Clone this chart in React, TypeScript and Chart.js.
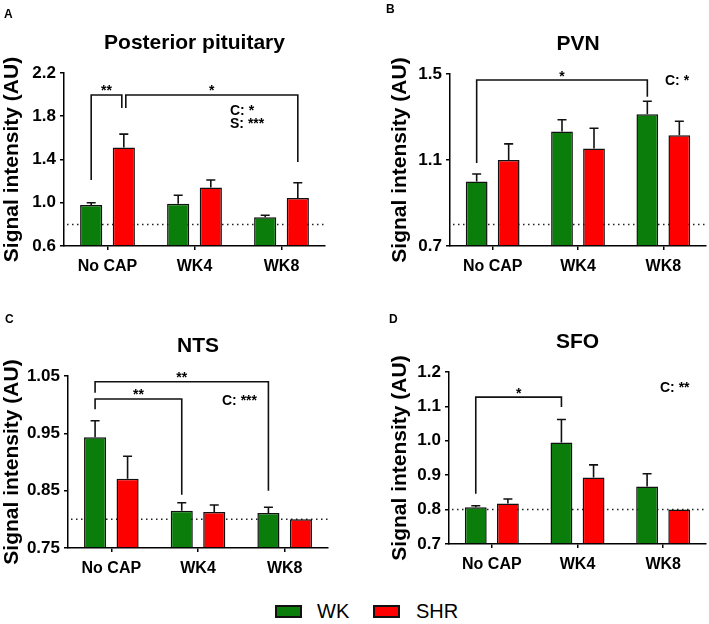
import React, { useEffect, useRef } from 'react';
import { Chart, registerables } from 'chart.js';
Chart.register(...registerables);

const FONT = "'Liberation Sans', Arial, Helvetica, sans-serif";
Chart.defaults.font.family = FONT;

const categories = ['No CAP', 'WK4', 'WK8'];
const seriesNames = ['WK', 'SHR'];
const seriesColors = ['#0a7d0a', '#ff0000'];
const yTitle = 'Signal intensity (AU)';
const dottedLevel = 0.8;

// A: Posterior pituitary
const ppTicks = [0.6, 1.0, 1.4, 1.8, 2.2];
const ppWK = [0.98, 0.99, 0.865];
const ppWKErr = [0.02, 0.08, 0.02];
const ppSHR = [1.51, 1.14, 1.045];
const ppSHRErr = [0.125, 0.07, 0.14];

// B: PVN
const pvnTicks = [0.7, 1.1, 1.5];
const pvnWK = [1.0, 1.232, 1.313];
const pvnWKErr = [0.035, 0.055, 0.06];
const pvnSHR = [1.1, 1.153, 1.215];
const pvnSHRErr = [0.075, 0.095, 0.065];

// C: NTS
const ntsTicks = [0.75, 0.85, 0.95, 1.05];
const ntsWK = [0.943, 0.815, 0.811];
const ntsWKErr = [0.029, 0.014, 0.01];
const ntsSHR = [0.871, 0.813, 0.8];
const ntsSHRErr = [0.039, 0.012, 0];

// D: SFO
const sfoTicks = [0.7, 0.8, 0.9, 1.0, 1.1, 1.2];
const sfoWK = [0.807, 0.995, 0.867];
const sfoWKErr = [0.004, 0.067, 0.037];
const sfoSHR = [0.818, 0.893, 0.8];
const sfoSHRErr = [0.013, 0.037, 0];

type Bracket = {
  from: [number, number, number];
  to: [number, number, number];
  top: number;
  fromBottom: number;
  toBottom: number;
  label: string;
};

type PanelCfg = {
  letter: string;
  title: string;
  ticks: number[];
  dec: number;
  wk: number[];
  wkErr: number[];
  shr: number[];
  shrErr: number[];
  brackets: Bracket[];
  notes: { text: string; x: number; y: number }[];
  letterPos: [number, number];
  left: number;
  top: number;
  w: number;
  h: number;
  pad: { left: number; top: number; right: number };
  yWidth: number;
};

const panels: PanelCfg[] = [
  {
    letter: 'A', title: 'Posterior pituitary', ticks: ppTicks, dec: 1,
    wk: ppWK, wkErr: ppWKErr, shr: ppSHR, shrErr: ppSHRErr,
    brackets: [
      { from: [0, 0, 0], to: [0, 1, -2], top: 1.997, fromBottom: 1.21, toBottom: 1.876, label: '**' },
      { from: [0, 1, 2], to: [2, 1, 0], top: 1.997, fromBottom: 1.876, toBottom: 1.377, label: '*' },
    ],
    notes: [{ text: 'C: *', x: 230, y: 115 }, { text: 'S: ***', x: 230, y: 128 }],
    letterPos: [4, 17.5],
    left: 0, top: 0, w: 354, h: 276,
    pad: { left: 0, top: 73, right: 29 }, yWidth: 64,
  },
  {
    letter: 'B', title: 'PVN', ticks: pvnTicks, dec: 1,
    wk: pvnWK, wkErr: pvnWKErr, shr: pvnSHR, shrErr: pvnSHRErr,
    brackets: [
      { from: [0, 0, 0], to: [2, 0, 0], top: 1.472, fromBottom: 1.086, toBottom: 1.394, label: '*' },
    ],
    notes: [{ text: 'C: *', x: 311, y: 85 }],
    letterPos: [32, 13],
    left: 354, top: 0, w: 355, h: 276,
    pad: { left: 34, top: 74, right: 3 }, yWidth: 62,
  },
  {
    letter: 'C', title: 'NTS', ticks: ntsTicks, dec: 2,
    wk: ntsWK, wkErr: ntsWKErr, shr: ntsSHR, shrErr: ntsSHRErr,
    brackets: [
      { from: [0, 0, 0], to: [2, 0, 0], top: 1.04, fromBottom: 1.021, toBottom: 0.85, label: '**' },
      { from: [0, 0, 0], to: [1, 0, 0], top: 1.01, fromBottom: 0.992, toBottom: 0.843, label: '**' },
    ],
    notes: [{ text: 'C: ***', x: 222, y: 105 }],
    letterPos: [5, 23],
    left: 0, top: 300, w: 354, h: 278,
    pad: { left: 0, top: 76, right: 26 }, yWidth: 68,
  },
  {
    letter: 'D', title: 'SFO', ticks: sfoTicks, dec: 1,
    wk: sfoWK, wkErr: sfoWKErr, shr: sfoSHR, shrErr: sfoSHRErr,
    brackets: [
      { from: [0, 0, 0], to: [1, 0, 0], top: 1.127, fromBottom: 0.846, toBottom: 1.098, label: '*' },
    ],
    notes: [{ text: 'C: **', x: 306, y: 92 }],
    letterPos: [35, 23],
    left: 354, top: 300, w: 355, h: 274,
    pad: { left: 34, top: 72, right: 3 }, yWidth: 61,
  },
];

function makePlugin(cfg: PanelCfg) {
  const errs = [cfg.wkErr, cfg.shrErr];
  const vals = [cfg.wk, cfg.shr];
  return {
    id: 'panelDecor' + cfg.letter,
    beforeDatasetsDraw(chart: any) {
      const { ctx, chartArea, scales } = chart;
      const yp = scales.y.getPixelForValue(dottedLevel);
      ctx.save();
      ctx.strokeStyle = '#222';
      ctx.lineWidth = 1.5;
      ctx.setLineDash([1.5, 3.5]);
      ctx.beginPath();
      ctx.moveTo(chartArea.left + 3, yp);
      ctx.lineTo(chartArea.right, yp);
      ctx.stroke();
      ctx.restore();
    },
    afterDatasetsDraw(chart: any) {
      const { ctx, chartArea, scales } = chart;
      const y = scales.y;
      ctx.save();
      ctx.strokeStyle = '#111';
      ctx.lineWidth = 1.6;
      for (let d = 0; d < 2; d++) {
        const meta = chart.getDatasetMeta(d);
        meta.data.forEach((el: any, i: number) => {
          const e = errs[d][i];
          if (!e) return;
          const yt = y.getPixelForValue(vals[d][i] + e);
          ctx.beginPath();
          ctx.moveTo(el.x, el.y);
          ctx.lineTo(el.x, yt);
          ctx.moveTo(el.x - 4.5, yt);
          ctx.lineTo(el.x + 4.5, yt);
          ctx.stroke();
        });
      }
      ctx.font = `bold 14px ${FONT}`;
      ctx.fillStyle = '#000';
      ctx.textAlign = 'center';
      ctx.textBaseline = 'alphabetic';
      cfg.brackets.forEach((b) => {
        const x1 = chart.getDatasetMeta(b.from[1]).data[b.from[0]].x + b.from[2];
        const x2 = chart.getDatasetMeta(b.to[1]).data[b.to[0]].x + b.to[2];
        const yt = y.getPixelForValue(b.top);
        ctx.beginPath();
        ctx.moveTo(x1, y.getPixelForValue(b.fromBottom));
        ctx.lineTo(x1, yt);
        ctx.lineTo(x2, yt);
        ctx.lineTo(x2, y.getPixelForValue(b.toBottom));
        ctx.stroke();
        ctx.fillText(b.label, (x1 + x2) / 2, yt + 0.5);
      });
      ctx.textAlign = 'left';
      cfg.notes.forEach((n) => ctx.fillText(n.text, n.x, n.y));
      ctx.font = `bold 21px ${FONT}`;
      ctx.textAlign = 'center';
      ctx.fillText(cfg.title, (chartArea.left + chartArea.right) / 2, chartArea.top - 24);
      ctx.font = `bold 12px ${FONT}`;
      ctx.textAlign = 'left';
      ctx.fillText(cfg.letter, cfg.letterPos[0], cfg.letterPos[1]);
      ctx.restore();
    },
  };
}

function Panel({ cfg }: { cfg: PanelCfg }) {
  const ref = useRef<HTMLCanvasElement>(null);
  useEffect(() => {
    const base = cfg.ticks[0];
    const chart = new Chart(ref.current as HTMLCanvasElement, {
      type: 'bar',
      data: {
        labels: categories,
        datasets: [
          { label: seriesNames[0], data: cfg.wk, backgroundColor: seriesColors[0], borderColor: '#111', borderWidth: 1.5, base } as any,
          { label: seriesNames[1], data: cfg.shr, backgroundColor: seriesColors[1], borderColor: '#111', borderWidth: 1.5, base } as any,
        ],
      },
      options: {
        animation: false,
        responsive: false,
        devicePixelRatio: 1,
        categoryPercentage: 0.75,
        barPercentage: 0.68,
        layout: { padding: { left: cfg.pad.left, top: cfg.pad.top, right: cfg.pad.right, bottom: 0 } },
        plugins: { legend: { display: false }, tooltip: { enabled: false }, title: { display: false } },
        scales: {
          x: {
            afterFit: (s: any) => { s.height = 30; },
            ticks: { font: { size: 16, weight: 'bold' }, color: '#000', padding: 7 },
            grid: { offset: false, drawOnChartArea: false, tickLength: 4, color: '#000', lineWidth: 1.5 },
            border: { color: '#000', width: 1.5 },
          },
          y: {
            min: cfg.ticks[0],
            max: cfg.ticks[cfg.ticks.length - 1],
            afterBuildTicks: (s: any) => { s.ticks = cfg.ticks.map((v) => ({ value: v })); },
            afterFit: (s: any) => { s.width = cfg.yWidth; },
            ticks: { font: { size: 17, weight: 'bold' }, color: '#000', padding: 4, callback: (v: any) => Number(v).toFixed(cfg.dec) },
            grid: { drawOnChartArea: false, tickLength: 4, color: '#000', lineWidth: 1.5 },
            border: { color: '#000', width: 1.5 },
            title: { display: true, text: yTitle, font: { size: 21, weight: 'bold' }, color: '#000', padding: 0 },
          },
        },
      } as any,
      plugins: [makePlugin(cfg)],
    });
    return () => chart.destroy();
  }, []);
  return (
    <canvas
      ref={ref}
      width={cfg.w}
      height={cfg.h}
      style={{ position: 'absolute', left: cfg.left, top: cfg.top, width: cfg.w, height: cfg.h }}
    />
  );
}

export default function App() {
  const legendText: React.CSSProperties = {
    position: 'absolute', top: 599, height: 24, lineHeight: '24px', fontSize: 20,
    fontFamily: FONT, color: '#000', whiteSpace: 'nowrap',
  };
  const box = (left: number, color: string): React.CSSProperties => ({
    position: 'absolute', left, top: 605, width: 23, height: 9, border: '2px solid #111', background: color,
  });
  return (
    <div style={{ position: 'fixed', left: 0, top: 0, width: 709, height: 624, background: '#fff', overflow: 'hidden' }}>
      {panels.map((p) => <Panel key={p.letter} cfg={p} />)}
      <div style={box(275, seriesColors[0])} />
      <span style={{ ...legendText, left: 317 }}>{seriesNames[0]}</span>
      <div style={box(373, seriesColors[1])} />
      <span style={{ ...legendText, left: 416 }}>{seriesNames[1]}</span>
    </div>
  );
}
